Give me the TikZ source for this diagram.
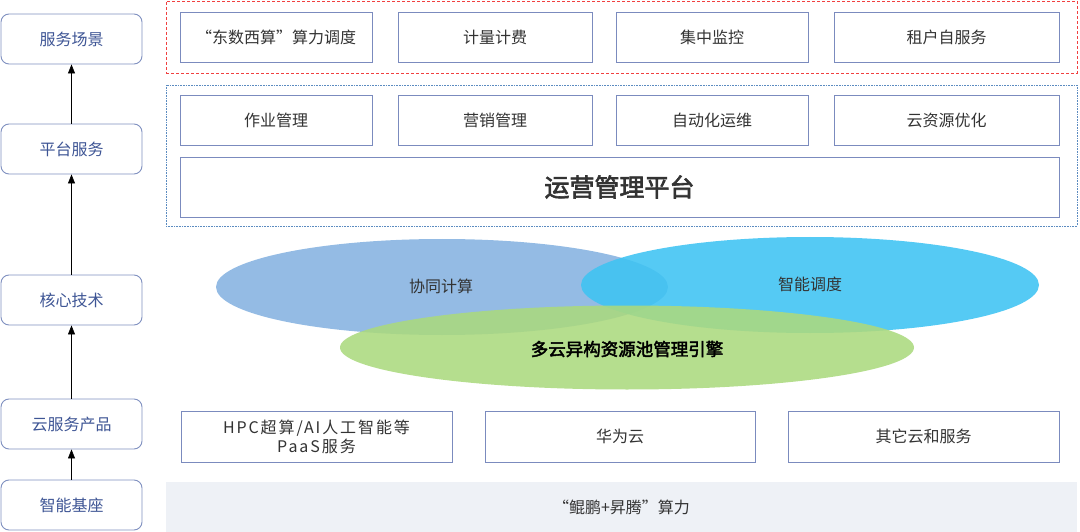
\documentclass[tikz,border=0pt]{standalone}
\usepackage{fontspec}
\usetikzlibrary{arrows.meta}
\setmainfont{Noto Sans CJK SC}
\newfontfamily\cjkb[FakeBold=2.5]{Noto Sans CJK SC}
\newfontfamily\cjksp[LetterSpace=12]{Noto Sans CJK SC}
\begin{document}
\begin{tikzpicture}[x=1pt,y=-1pt,
  side/.style={draw=sideblue,line width=0.9pt,rounded corners=8pt,fill=white,text=sidetext,font=\fontsize{16}{18}\selectfont,minimum width=141pt,minimum height=50pt,inner sep=0pt},
  item/.style={draw=boxblue,line width=0.9pt,fill=white,text=textgray,font=\fontsize{16}{18}\selectfont,minimum height=50pt,inner sep=0pt},
  uparrow/.style={-{Triangle[length=9pt,width=7pt]},line width=0.6pt,black},
  ell/.style={fill opacity=0.88,draw=none}]
\useasboundingbox (0,0) rectangle (1080,532);
\definecolor{sideblue}{HTML}{7F90C0}
\definecolor{sidetext}{HTML}{3E5595}
\definecolor{boxblue}{HTML}{7B8BBE}
\definecolor{textgray}{HTML}{333333}
\definecolor{ellA}{HTML}{85B2E0}
\definecolor{ellB}{HTML}{3EC3F3}
\definecolor{ellC}{HTML}{ABD97E}
\definecolor{band}{HTML}{EEF1F6}
\definecolor{reddash}{HTML}{F04040}
\definecolor{bluedot}{HTML}{5B8BC0}
% left column
\node[side] (s1) at (71.5,39) {服务场景};
\node[side] (s2) at (71.5,149) {平台服务};
\node[side] (s3) at (71.5,300) {核心技术};
\node[side] (s4) at (71.5,424) {云服务产品};
\node[side] (s5) at (71.5,505) {智能基座};
\draw[uparrow] (s2.north) -- (s1.south);
\draw[uparrow] (s3.north) -- (s2.south);
\draw[uparrow] (s4.north) -- (s3.south);
\draw[uparrow] (s5.north) -- (s4.south);
% frames
\node[draw=reddash,densely dashed,line width=0.5pt,minimum width=911pt,minimum height=72pt,inner sep=0pt] (fr1) at (621.5,37) {};
\node[draw=bluedot,densely dotted,line width=0.6pt,minimum width=911pt,minimum height=141pt,inner sep=0pt] (fr2) at (621.5,155.5) {};
% top row
\node[item,minimum width=192pt] (a1) at (276,37) {“东数西算”算力调度};
\node[item,minimum width=194pt] (a2) at (495,37) {计量计费};
\node[item,minimum width=192pt] (a3) at (712,37) {集中监控};
\node[item,minimum width=225pt] (a4) at (946.5,37) {租户自服务};
% platform row
\node[item,minimum width=192pt] (b1) at (276,120) {作业管理};
\node[item,minimum width=194pt] (b2) at (495,120) {营销管理};
\node[item,minimum width=192pt] (b3) at (712,120) {自动化运维};
\node[item,minimum width=225pt] (b4) at (946.5,120) {云资源优化};
\node[item,minimum width=879pt,minimum height=60pt,font=\cjkb\fontsize{25}{28}\selectfont] (b5) at (619.5,187) {运营管理平台};
% ellipses
\fill[ell,ellA] (442,287) ellipse [x radius=226,y radius=48];
\fill[ell,ellB] (810,285) ellipse [x radius=229,y radius=48];
\fill[ell,ellC] (627,347.5) ellipse [x radius=287,y radius=42];
\node[text=textgray,font=\fontsize{16}{18}\selectfont] (c1) at (441,286) {协同计算};
\node[text=textgray,font=\fontsize{16}{18}\selectfont] (c2) at (810,284) {智能调度};
\node[text=black,font=\cjkb\fontsize{17.5}{20}\selectfont] (c3) at (627,349) {多云异构资源池管理引擎};
% cloud products
\node[item,minimum width=271pt,minimum height=51pt,align=center,font=\cjksp\fontsize{16}{19}\selectfont] (d1) at (316.5,436.5) {HPC超算/AI人工智能等\\PaaS服务};
\node[item,minimum width=270pt,minimum height=51pt] (d2) at (620,436.5) {华为云};
\node[item,minimum width=271pt,minimum height=51pt] (d3) at (923.5,436.5) {其它云和服务};
% base band
\node[fill=band,draw=none,minimum width=911pt,minimum height=50pt,inner sep=0pt,text=textgray,font=\fontsize{16}{18}\selectfont] (e1) at (621.5,507) {“鲲鹏+昇腾”算力};
\end{tikzpicture}
\end{document}
